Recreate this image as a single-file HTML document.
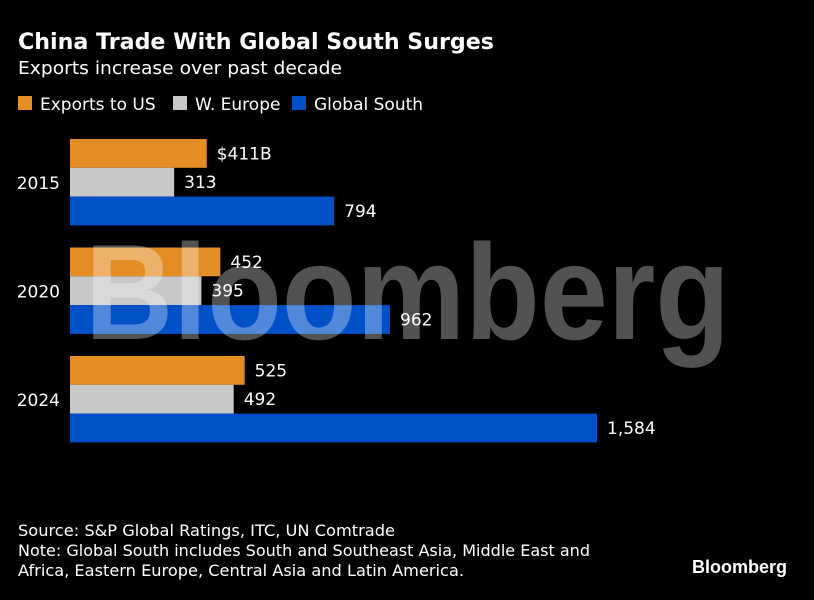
<!DOCTYPE html>
<html><head><meta charset="utf-8"><style>
body{margin:0;background:#000;width:814px;height:596px;overflow:hidden;font-family:"DejaVu Sans",sans-serif;color:#fff}
svg text{font-family:"DejaVu Sans","Liberation Sans",sans-serif}
</style></head><body>
<svg width="814" height="596">
<text x="18" y="49" font-size="22" font-weight="bold" fill="#fff" textLength="476" lengthAdjust="spacingAndGlyphs">China Trade With Global South Surges</text>
<text x="18" y="74" font-size="18" fill="#fff" textLength="324" lengthAdjust="spacingAndGlyphs">Exports increase over past decade</text>
<g id="legend"></g>
<g id="bars"></g>
<text x="85" y="339" font-size="136" font-weight="bold" fill="#fff" fill-opacity="0.32" textLength="645" lengthAdjust="spacingAndGlyphs" style="font-family:'Liberation Sans',sans-serif">Bloomberg</text>
<text x="18" y="536" font-size="16" fill="#fff" textLength="377" lengthAdjust="spacingAndGlyphs">Source: S&amp;P Global Ratings, ITC, UN Comtrade</text>
<text x="18" y="556" font-size="16" fill="#fff" textLength="572" lengthAdjust="spacingAndGlyphs">Note: Global South includes South and Southeast Asia, Middle East and</text>
<text x="18" y="576" font-size="16" fill="#fff" textLength="446" lengthAdjust="spacingAndGlyphs">Africa, Eastern Europe, Central Asia and Latin America.</text>
<text x="787" y="573" font-size="18" font-weight="bold" text-anchor="end" fill="#fff" style="font-family:'Liberation Sans',sans-serif">Bloomberg</text>
</svg>
<script>
const years = ["2015","2020","2024"];
const seriesNames = ["Exports to US","W. Europe","Global South"];
const exportsUS = [411,452,525];
const wEurope = [313,395,492];
const globalSouth = [794,962,1584];
const labelsUS = ["$411B","452","525"];
const labelsEU = ["313","395","492"];
const labelsGS = ["794","962","1,584"];
const colors = ["#e38d24","#c8c8c8","#0050c8"];
const NS="http://www.w3.org/2000/svg";
const x0=70, xs=v=>x0+v*(527/1584);
const groupTop=i=>139+i*108.5, barH=28.8;
function mk(tag,attrs,parent){const e=document.createElementNS(NS,tag);for(const k in attrs)e.setAttribute(k,attrs[k]);parent.appendChild(e);return e;}
const lg=document.getElementById('legend');
const lx=[18,173,292];
seriesNames.forEach((n,i)=>{
  const r=mk('rect',{x:lx[i],y:96,width:14,height:14,fill:colors[i]},lg);
  
  
  const t=mk('text',{x:lx[i]+22,y:110,'font-size':17,fill:'#fff'},lg);t.textContent=n;
  
  
});
const bg=document.getElementById('bars');
const series=[exportsUS,wEurope,globalSouth], labels=[labelsUS,labelsEU,labelsGS];
years.forEach((y,i)=>{
  const t=mk('text',{x:60,y:groupTop(i)+barH*1.5+7,'font-size':17,fill:'#fff','text-anchor':'end'},bg);t.textContent=y;
  
  
  series.forEach((s,j)=>{
    const yy=groupTop(i)+j*barH;
    const r=mk('rect',{x:x0,y:yy,width:xs(s[i])-x0,height:barH,fill:colors[j]},bg);
    
    
    const l=mk('text',{x:xs(s[i])+10,y:yy+barH/2+6,'font-size':17,fill:'#fff'},bg);l.textContent=labels[j][i];
    
    
  });
});
</script>
</body></html>
